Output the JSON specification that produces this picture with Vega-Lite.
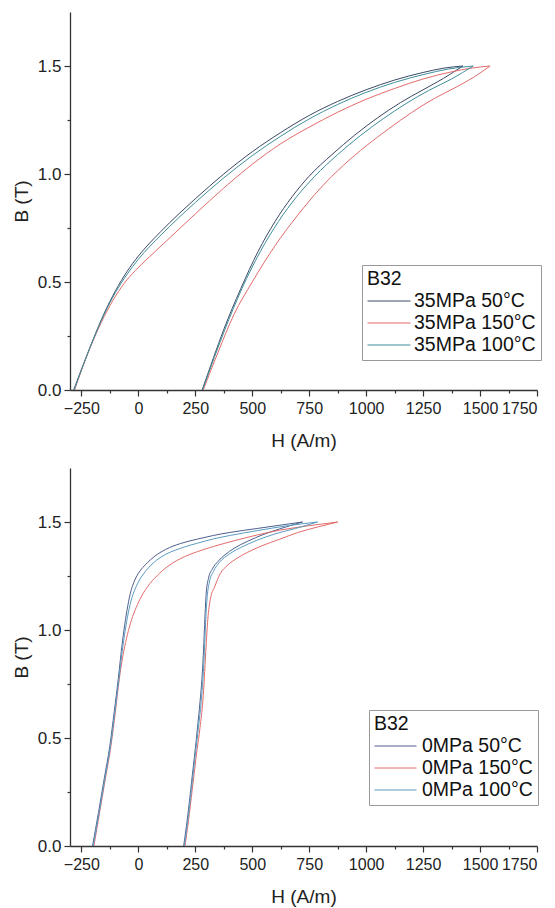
{
"$schema": "https://vega.github.io/schema/vega-lite/v6.json",
"padding": {"left": 12, "top": 12, "right": 5, "bottom": 5},
"spacing": 18,
"config": {
  "font": "Liberation Sans",
  "view": {"stroke": null},
  "axis": {"grid": false, "domainColor": "#333", "domainWidth": 1.3, "tickColor": "#333", "tickWidth": 1.2, "labelColor": "#222", "titleColor": "#222", "labelFont": "Liberation Sans", "titleFont": "Liberation Sans", "titleFontWeight": "normal"},
  "legend": {"labelFont": "Liberation Sans", "titleFont": "Liberation Sans"}
},
"datasets": {
"top": [
{"s":"35MPa 50°C","b":"u","o":1,"H":-284,"B":0},{"s":"35MPa 50°C","b":"u","o":2,"H":-250,"B":0.095},{"s":"35MPa 50°C","b":"u","o":3,"H":-200,"B":0.23},{"s":"35MPa 50°C","b":"u","o":4,"H":-150,"B":0.355},{"s":"35MPa 50°C","b":"u","o":5,"H":-100,"B":0.46},{"s":"35MPa 50°C","b":"u","o":6,"H":-50,"B":0.548},{"s":"35MPa 50°C","b":"u","o":7,"H":0,"B":0.62},{"s":"35MPa 50°C","b":"u","o":8,"H":100,"B":0.735},{"s":"35MPa 50°C","b":"u","o":9,"H":250,"B":0.885},{"s":"35MPa 50°C","b":"u","o":10,"H":375,"B":1.0},{"s":"35MPa 50°C","b":"u","o":11,"H":500,"B":1.103},{"s":"35MPa 50°C","b":"u","o":12,"H":625,"B":1.192},{"s":"35MPa 50°C","b":"u","o":13,"H":750,"B":1.271},{"s":"35MPa 50°C","b":"u","o":14,"H":875,"B":1.336},{"s":"35MPa 50°C","b":"u","o":15,"H":1000,"B":1.39},{"s":"35MPa 50°C","b":"u","o":16,"H":1125,"B":1.435},{"s":"35MPa 50°C","b":"u","o":17,"H":1250,"B":1.47},{"s":"35MPa 50°C","b":"u","o":18,"H":1340,"B":1.49},{"s":"35MPa 50°C","b":"u","o":19,"H":1425,"B":1.5},
{"s":"35MPa 50°C","b":"l","o":19,"H":1425,"B":1.5},{"s":"35MPa 50°C","b":"l","o":20,"H":1340,"B":1.443},{"s":"35MPa 50°C","b":"l","o":21,"H":1250,"B":1.39},{"s":"35MPa 50°C","b":"l","o":22,"H":1150,"B":1.33},{"s":"35MPa 50°C","b":"l","o":23,"H":1050,"B":1.26},{"s":"35MPa 50°C","b":"l","o":24,"H":950,"B":1.18},{"s":"35MPa 50°C","b":"l","o":25,"H":850,"B":1.09},{"s":"35MPa 50°C","b":"l","o":26,"H":750,"B":0.99},{"s":"35MPa 50°C","b":"l","o":27,"H":675,"B":0.895},{"s":"35MPa 50°C","b":"l","o":28,"H":600,"B":0.78},{"s":"35MPa 50°C","b":"l","o":29,"H":525,"B":0.64},{"s":"35MPa 50°C","b":"l","o":30,"H":450,"B":0.47},{"s":"35MPa 50°C","b":"l","o":31,"H":375,"B":0.28},{"s":"35MPa 50°C","b":"l","o":32,"H":330,"B":0.15},{"s":"35MPa 50°C","b":"l","o":33,"H":280,"B":0},
{"s":"35MPa 150°C","b":"u","o":1,"H":-280,"B":0},{"s":"35MPa 150°C","b":"u","o":2,"H":-250,"B":0.09},{"s":"35MPa 150°C","b":"u","o":3,"H":-200,"B":0.225},{"s":"35MPa 150°C","b":"u","o":4,"H":-150,"B":0.34},{"s":"35MPa 150°C","b":"u","o":5,"H":-100,"B":0.435},{"s":"35MPa 150°C","b":"u","o":6,"H":-50,"B":0.51},{"s":"35MPa 150°C","b":"u","o":7,"H":0,"B":0.567},{"s":"35MPa 150°C","b":"u","o":8,"H":100,"B":0.667},{"s":"35MPa 150°C","b":"u","o":9,"H":250,"B":0.815},{"s":"35MPa 150°C","b":"u","o":10,"H":375,"B":0.935},{"s":"35MPa 150°C","b":"u","o":11,"H":500,"B":1.045},{"s":"35MPa 150°C","b":"u","o":12,"H":625,"B":1.14},{"s":"35MPa 150°C","b":"u","o":13,"H":750,"B":1.217},{"s":"35MPa 150°C","b":"u","o":14,"H":875,"B":1.286},{"s":"35MPa 150°C","b":"u","o":15,"H":1000,"B":1.346},{"s":"35MPa 150°C","b":"u","o":16,"H":1125,"B":1.396},{"s":"35MPa 150°C","b":"u","o":17,"H":1250,"B":1.44},{"s":"35MPa 150°C","b":"u","o":18,"H":1375,"B":1.473},{"s":"35MPa 150°C","b":"u","o":19,"H":1460,"B":1.49},{"s":"35MPa 150°C","b":"u","o":20,"H":1544,"B":1.5},
{"s":"35MPa 150°C","b":"l","o":20,"H":1544,"B":1.5},{"s":"35MPa 150°C","b":"l","o":21,"H":1475,"B":1.45},{"s":"35MPa 150°C","b":"l","o":22,"H":1400,"B":1.405},{"s":"35MPa 150°C","b":"l","o":23,"H":1300,"B":1.35},{"s":"35MPa 150°C","b":"l","o":24,"H":1200,"B":1.285},{"s":"35MPa 150°C","b":"l","o":25,"H":1100,"B":1.21},{"s":"35MPa 150°C","b":"l","o":26,"H":1000,"B":1.13},{"s":"35MPa 150°C","b":"l","o":27,"H":900,"B":1.04},{"s":"35MPa 150°C","b":"l","o":28,"H":800,"B":0.935},{"s":"35MPa 150°C","b":"l","o":29,"H":700,"B":0.81},{"s":"35MPa 150°C","b":"l","o":30,"H":600,"B":0.668},{"s":"35MPa 150°C","b":"l","o":31,"H":500,"B":0.5},{"s":"35MPa 150°C","b":"l","o":32,"H":420,"B":0.35},{"s":"35MPa 150°C","b":"l","o":33,"H":350,"B":0.175},{"s":"35MPa 150°C","b":"l","o":34,"H":285,"B":0},
{"s":"35MPa 100°C","b":"u","o":1,"H":-282,"B":0},{"s":"35MPa 100°C","b":"u","o":2,"H":-250,"B":0.092},{"s":"35MPa 100°C","b":"u","o":3,"H":-200,"B":0.228},{"s":"35MPa 100°C","b":"u","o":4,"H":-150,"B":0.35},{"s":"35MPa 100°C","b":"u","o":5,"H":-100,"B":0.452},{"s":"35MPa 100°C","b":"u","o":6,"H":-50,"B":0.535},{"s":"35MPa 100°C","b":"u","o":7,"H":0,"B":0.605},{"s":"35MPa 100°C","b":"u","o":8,"H":100,"B":0.718},{"s":"35MPa 100°C","b":"u","o":9,"H":250,"B":0.868},{"s":"35MPa 100°C","b":"u","o":10,"H":375,"B":0.982},{"s":"35MPa 100°C","b":"u","o":11,"H":500,"B":1.085},{"s":"35MPa 100°C","b":"u","o":12,"H":625,"B":1.175},{"s":"35MPa 100°C","b":"u","o":13,"H":750,"B":1.255},{"s":"35MPa 100°C","b":"u","o":14,"H":875,"B":1.322},{"s":"35MPa 100°C","b":"u","o":15,"H":1000,"B":1.378},{"s":"35MPa 100°C","b":"u","o":16,"H":1125,"B":1.424},{"s":"35MPa 100°C","b":"u","o":17,"H":1250,"B":1.46},{"s":"35MPa 100°C","b":"u","o":18,"H":1360,"B":1.486},{"s":"35MPa 100°C","b":"u","o":19,"H":1470,"B":1.5},
{"s":"35MPa 100°C","b":"l","o":19,"H":1470,"B":1.5},{"s":"35MPa 100°C","b":"l","o":20,"H":1375,"B":1.44},{"s":"35MPa 100°C","b":"l","o":21,"H":1275,"B":1.387},{"s":"35MPa 100°C","b":"l","o":22,"H":1175,"B":1.326},{"s":"35MPa 100°C","b":"l","o":23,"H":1075,"B":1.256},{"s":"35MPa 100°C","b":"l","o":24,"H":975,"B":1.178},{"s":"35MPa 100°C","b":"l","o":25,"H":875,"B":1.09},{"s":"35MPa 100°C","b":"l","o":26,"H":775,"B":0.99},{"s":"35MPa 100°C","b":"l","o":27,"H":695,"B":0.895},{"s":"35MPa 100°C","b":"l","o":28,"H":615,"B":0.78},{"s":"35MPa 100°C","b":"l","o":29,"H":535,"B":0.64},{"s":"35MPa 100°C","b":"l","o":30,"H":455,"B":0.47},{"s":"35MPa 100°C","b":"l","o":31,"H":380,"B":0.28},{"s":"35MPa 100°C","b":"l","o":32,"H":335,"B":0.155},{"s":"35MPa 100°C","b":"l","o":33,"H":282,"B":0}
],
"bottom": [
{"s":"0MPa 50°C","b":"u","o":1,"H":-201,"B":0},{"s":"0MPa 50°C","b":"u","o":2,"H":-175,"B":0.155},{"s":"0MPa 50°C","b":"u","o":3,"H":-150,"B":0.31},{"s":"0MPa 50°C","b":"u","o":4,"H":-125,"B":0.465},{"s":"0MPa 50°C","b":"u","o":5,"H":-106,"B":0.62},{"s":"0MPa 50°C","b":"u","o":6,"H":-88,"B":0.775},{"s":"0MPa 50°C","b":"u","o":7,"H":-75,"B":0.9},{"s":"0MPa 50°C","b":"u","o":8,"H":-63,"B":1.0},{"s":"0MPa 50°C","b":"u","o":9,"H":-50,"B":1.09},{"s":"0MPa 50°C","b":"u","o":10,"H":-35,"B":1.17},{"s":"0MPa 50°C","b":"u","o":11,"H":-18,"B":1.225},{"s":"0MPa 50°C","b":"u","o":12,"H":0,"B":1.262},{"s":"0MPa 50°C","b":"u","o":13,"H":20,"B":1.29},{"s":"0MPa 50°C","b":"u","o":14,"H":40,"B":1.312},{"s":"0MPa 50°C","b":"u","o":15,"H":70,"B":1.34},{"s":"0MPa 50°C","b":"u","o":16,"H":120,"B":1.373},{"s":"0MPa 50°C","b":"u","o":17,"H":184,"B":1.4},{"s":"0MPa 50°C","b":"u","o":18,"H":260,"B":1.421},{"s":"0MPa 50°C","b":"u","o":19,"H":331,"B":1.438},{"s":"0MPa 50°C","b":"u","o":20,"H":404,"B":1.452},{"s":"0MPa 50°C","b":"u","o":21,"H":522,"B":1.47},{"s":"0MPa 50°C","b":"u","o":22,"H":620,"B":1.485},{"s":"0MPa 50°C","b":"u","o":23,"H":721,"B":1.5},
{"s":"0MPa 50°C","b":"l","o":23,"H":721,"B":1.5},{"s":"0MPa 50°C","b":"l","o":24,"H":620,"B":1.468},{"s":"0MPa 50°C","b":"l","o":25,"H":551,"B":1.443},{"s":"0MPa 50°C","b":"l","o":26,"H":478,"B":1.41},{"s":"0MPa 50°C","b":"l","o":27,"H":420,"B":1.378},{"s":"0MPa 50°C","b":"l","o":28,"H":380,"B":1.348},{"s":"0MPa 50°C","b":"l","o":29,"H":350,"B":1.318},{"s":"0MPa 50°C","b":"l","o":30,"H":325,"B":1.283},{"s":"0MPa 50°C","b":"l","o":31,"H":308,"B":1.24},{"s":"0MPa 50°C","b":"l","o":32,"H":298,"B":1.17},{"s":"0MPa 50°C","b":"l","o":33,"H":294,"B":1.1},{"s":"0MPa 50°C","b":"l","o":34,"H":290,"B":1.0},{"s":"0MPa 50°C","b":"l","o":35,"H":285,"B":0.88},{"s":"0MPa 50°C","b":"l","o":36,"H":279,"B":0.772},{"s":"0MPa 50°C","b":"l","o":37,"H":271,"B":0.67},{"s":"0MPa 50°C","b":"l","o":38,"H":260,"B":0.55},{"s":"0MPa 50°C","b":"l","o":39,"H":249,"B":0.44},{"s":"0MPa 50°C","b":"l","o":40,"H":234,"B":0.3},{"s":"0MPa 50°C","b":"l","o":41,"H":218,"B":0.15},{"s":"0MPa 50°C","b":"l","o":42,"H":199,"B":0},
{"s":"0MPa 150°C","b":"u","o":1,"H":-195,"B":0},{"s":"0MPa 150°C","b":"u","o":2,"H":-170,"B":0.155},{"s":"0MPa 150°C","b":"u","o":3,"H":-145,"B":0.31},{"s":"0MPa 150°C","b":"u","o":4,"H":-120,"B":0.465},{"s":"0MPa 150°C","b":"u","o":5,"H":-101,"B":0.62},{"s":"0MPa 150°C","b":"u","o":6,"H":-84,"B":0.77},{"s":"0MPa 150°C","b":"u","o":7,"H":-68,"B":0.88},{"s":"0MPa 150°C","b":"u","o":8,"H":-52,"B":0.96},{"s":"0MPa 150°C","b":"u","o":9,"H":-35,"B":1.03},{"s":"0MPa 150°C","b":"u","o":10,"H":-15,"B":1.09},{"s":"0MPa 150°C","b":"u","o":11,"H":7,"B":1.142},{"s":"0MPa 150°C","b":"u","o":12,"H":40,"B":1.2},{"s":"0MPa 150°C","b":"u","o":13,"H":81,"B":1.25},{"s":"0MPa 150°C","b":"u","o":14,"H":130,"B":1.295},{"s":"0MPa 150°C","b":"u","o":15,"H":184,"B":1.33},{"s":"0MPa 150°C","b":"u","o":16,"H":260,"B":1.363},{"s":"0MPa 150°C","b":"u","o":17,"H":331,"B":1.387},{"s":"0MPa 150°C","b":"u","o":18,"H":420,"B":1.413},{"s":"0MPa 150°C","b":"u","o":19,"H":522,"B":1.44},{"s":"0MPa 150°C","b":"u","o":20,"H":620,"B":1.462},{"s":"0MPa 150°C","b":"u","o":21,"H":750,"B":1.483},{"s":"0MPa 150°C","b":"u","o":22,"H":875,"B":1.5},
{"s":"0MPa 150°C","b":"l","o":22,"H":875,"B":1.5},{"s":"0MPa 150°C","b":"l","o":23,"H":780,"B":1.475},{"s":"0MPa 150°C","b":"l","o":24,"H":699,"B":1.451},{"s":"0MPa 150°C","b":"l","o":25,"H":620,"B":1.42},{"s":"0MPa 150°C","b":"l","o":26,"H":540,"B":1.389},{"s":"0MPa 150°C","b":"l","o":27,"H":480,"B":1.36},{"s":"0MPa 150°C","b":"l","o":28,"H":434,"B":1.333},{"s":"0MPa 150°C","b":"l","o":29,"H":390,"B":1.298},{"s":"0MPa 150°C","b":"l","o":30,"H":360,"B":1.262},{"s":"0MPa 150°C","b":"l","o":31,"H":335,"B":1.2},{"s":"0MPa 150°C","b":"l","o":32,"H":316,"B":1.142},{"s":"0MPa 150°C","b":"l","o":33,"H":305,"B":1.05},{"s":"0MPa 150°C","b":"l","o":34,"H":296,"B":0.9},{"s":"0MPa 150°C","b":"l","o":35,"H":290,"B":0.78},{"s":"0MPa 150°C","b":"l","o":36,"H":283,"B":0.67},{"s":"0MPa 150°C","b":"l","o":37,"H":271,"B":0.55},{"s":"0MPa 150°C","b":"l","o":38,"H":257,"B":0.44},{"s":"0MPa 150°C","b":"l","o":39,"H":241,"B":0.3},{"s":"0MPa 150°C","b":"l","o":40,"H":224,"B":0.15},{"s":"0MPa 150°C","b":"l","o":41,"H":205,"B":0},
{"s":"0MPa 100°C","b":"u","o":1,"H":-198,"B":0},{"s":"0MPa 100°C","b":"u","o":2,"H":-172,"B":0.155},{"s":"0MPa 100°C","b":"u","o":3,"H":-147,"B":0.31},{"s":"0MPa 100°C","b":"u","o":4,"H":-122,"B":0.465},{"s":"0MPa 100°C","b":"u","o":5,"H":-103,"B":0.62},{"s":"0MPa 100°C","b":"u","o":6,"H":-85,"B":0.775},{"s":"0MPa 100°C","b":"u","o":7,"H":-71,"B":0.9},{"s":"0MPa 100°C","b":"u","o":8,"H":-58,"B":0.995},{"s":"0MPa 100°C","b":"u","o":9,"H":-44,"B":1.08},{"s":"0MPa 100°C","b":"u","o":10,"H":-28,"B":1.15},{"s":"0MPa 100°C","b":"u","o":11,"H":-10,"B":1.2},{"s":"0MPa 100°C","b":"u","o":12,"H":8,"B":1.237},{"s":"0MPa 100°C","b":"u","o":13,"H":30,"B":1.27},{"s":"0MPa 100°C","b":"u","o":14,"H":60,"B":1.305},{"s":"0MPa 100°C","b":"u","o":15,"H":100,"B":1.338},{"s":"0MPa 100°C","b":"u","o":16,"H":184,"B":1.378},{"s":"0MPa 100°C","b":"u","o":17,"H":260,"B":1.402},{"s":"0MPa 100°C","b":"u","o":18,"H":331,"B":1.422},{"s":"0MPa 100°C","b":"u","o":19,"H":404,"B":1.438},{"s":"0MPa 100°C","b":"u","o":20,"H":522,"B":1.46},{"s":"0MPa 100°C","b":"u","o":21,"H":650,"B":1.482},{"s":"0MPa 100°C","b":"u","o":22,"H":787,"B":1.5},
{"s":"0MPa 100°C","b":"l","o":22,"H":787,"B":1.5},{"s":"0MPa 100°C","b":"l","o":23,"H":690,"B":1.47},{"s":"0MPa 100°C","b":"l","o":24,"H":600,"B":1.445},{"s":"0MPa 100°C","b":"l","o":25,"H":520,"B":1.415},{"s":"0MPa 100°C","b":"l","o":26,"H":450,"B":1.382},{"s":"0MPa 100°C","b":"l","o":27,"H":400,"B":1.352},{"s":"0MPa 100°C","b":"l","o":28,"H":355,"B":1.312},{"s":"0MPa 100°C","b":"l","o":29,"H":330,"B":1.272},{"s":"0MPa 100°C","b":"l","o":30,"H":312,"B":1.222},{"s":"0MPa 100°C","b":"l","o":31,"H":302,"B":1.15},{"s":"0MPa 100°C","b":"l","o":32,"H":296,"B":1.05},{"s":"0MPa 100°C","b":"l","o":33,"H":290,"B":0.9},{"s":"0MPa 100°C","b":"l","o":34,"H":284,"B":0.78},{"s":"0MPa 100°C","b":"l","o":35,"H":276,"B":0.67},{"s":"0MPa 100°C","b":"l","o":36,"H":264,"B":0.55},{"s":"0MPa 100°C","b":"l","o":37,"H":252,"B":0.44},{"s":"0MPa 100°C","b":"l","o":38,"H":237,"B":0.3},{"s":"0MPa 100°C","b":"l","o":39,"H":221,"B":0.15},{"s":"0MPa 100°C","b":"l","o":40,"H":202,"B":0}
]
},
"vconcat": [
{
 "width": 467, "height": 378,
 "data": {"name": "top"},
 "layer": [
  {"mark": {"type": "line", "strokeWidth": 1, "interpolate": "monotone"},
   "encoding": {
    "x": {"field": "H", "type": "quantitative", "scale": {"domain": [-300, 1750], "nice": false, "zero": false},
      "axis": {"orient": "bottom", "values": [-250,0,250,500,750,1000,1250,1500,1750], "format": "d", "tickSize": 6, "labelPadding": 4, "labelFontSize": 16, "title": "H (A/m)", "titleFontSize": 19, "titlePadding": 15}},
    "y": {"field": "B", "type": "quantitative", "scale": {"domain": [0, 1.75], "nice": false},
      "axis": {"orient": "left", "values": [0,0.5,1,1.5], "format": ".1f", "tickSize": 6, "labelPadding": 3, "labelFontSize": 17, "title": "B (T)", "titleFontSize": 19, "titlePadding": 6}},
    "color": {"field": "s", "type": "nominal",
      "scale": {"domain": ["35MPa 50°C", "35MPa 150°C", "35MPa 100°C"], "range": ["#3c4a66", "#e36b6b", "#3f8f9c"]},
      "legend": {"orient": "none", "legendX": 292, "legendY": 253, "title": "B32", "titleFontSize": 19.5, "titleFontWeight": "normal", "titleColor": "#111", "labelColor": "#111", "labelFontSize": 19.5, "symbolType": "M-1,0H3.3", "symbolSize": 400, "symbolStrokeWidth": 1, "labelOffset": 26, "rowPadding": 2, "titlePadding": 1, "padding": 5, "strokeColor": "#999", "fillColor": "white", "cornerRadius": 0, "labelLimit": 300}},
    "detail": {"field": "b"},
    "order": {"field": "o", "type": "quantitative"}
   }},
  {"mark": {"type": "line", "opacity": 0},
   "encoding": {
    "x": {"field": "H", "type": "quantitative", "axis": {"orient": "bottom", "values": [-125,125,375,625,875,1125,1375,1625], "labels": false, "domain": false, "tickSize": 3, "title": null}},
    "y": {"field": "B", "type": "quantitative", "axis": {"orient": "left", "values": [0.25,0.75,1.25], "labels": false, "domain": false, "tickSize": 3, "title": null}},
    "detail": {"field": "s"},
    "order": {"field": "o", "type": "quantitative"}
   }}
 ],
 "resolve": {"axis": {"x": "independent", "y": "independent"}}
},
{
 "width": 467, "height": 378,
 "data": {"name": "bottom"},
 "layer": [
  {"mark": {"type": "line", "strokeWidth": 1, "interpolate": "monotone"},
   "encoding": {
    "x": {"field": "H", "type": "quantitative", "scale": {"domain": [-300, 1750], "nice": false, "zero": false},
      "axis": {"orient": "bottom", "values": [-250,0,250,500,750,1000,1250,1500,1750], "format": "d", "tickSize": 6, "labelPadding": 4, "labelFontSize": 16, "title": "H (A/m)", "titleFontSize": 19, "titlePadding": 15}},
    "y": {"field": "B", "type": "quantitative", "scale": {"domain": [0, 1.75], "nice": false},
      "axis": {"orient": "left", "values": [0,0.5,1,1.5], "format": ".1f", "tickSize": 6, "labelPadding": 3, "labelFontSize": 17, "title": "B (T)", "titleFontSize": 19, "titlePadding": 6}},
    "color": {"field": "s", "type": "nominal",
      "scale": {"domain": ["0MPa 50°C", "0MPa 150°C", "0MPa 100°C"], "range": ["#4d5f8c", "#e36b6b", "#5b9cc0"]},
      "legend": {"orient": "none", "legendX": 299, "legendY": 242, "title": "B32", "titleFontSize": 19.5, "titleFontWeight": "normal", "titleColor": "#111", "labelColor": "#111", "labelFontSize": 19.5, "symbolType": "M-1,0H3.2", "symbolSize": 400, "symbolStrokeWidth": 1, "labelOffset": 27, "rowPadding": 2, "titlePadding": 1, "padding": 5, "strokeColor": "#999", "fillColor": "white", "cornerRadius": 0, "labelLimit": 300}},
    "detail": {"field": "b"},
    "order": {"field": "o", "type": "quantitative"}
   }},
  {"mark": {"type": "line", "opacity": 0},
   "encoding": {
    "x": {"field": "H", "type": "quantitative", "axis": {"orient": "bottom", "values": [-125,125,375,625,875,1125,1375,1625], "labels": false, "domain": false, "tickSize": 3, "title": null}},
    "y": {"field": "B", "type": "quantitative", "axis": {"orient": "left", "values": [0.25,0.75,1.25], "labels": false, "domain": false, "tickSize": 3, "title": null}},
    "detail": {"field": "s"},
    "order": {"field": "o", "type": "quantitative"}
   }}
 ],
 "resolve": {"axis": {"x": "independent", "y": "independent"}}
}
],
"resolve": {"scale": {"color": "independent"}}
}
